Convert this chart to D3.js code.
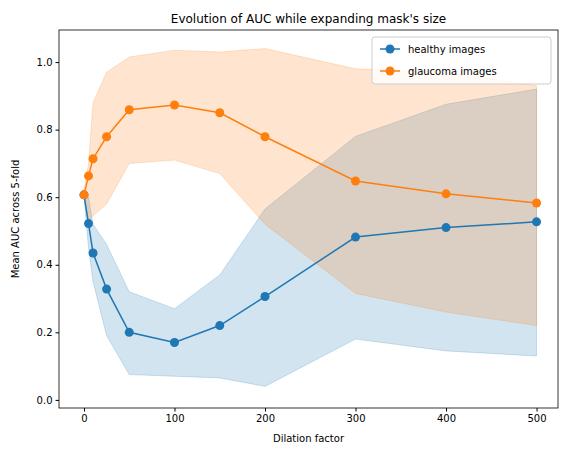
<!DOCTYPE html>
<html><head><meta charset="utf-8">
<script src="https://d3js.org/d3.v7.min.js"></script>
<style>
  body { margin: 0; background: white; font-family: "DejaVu Sans", sans-serif; }
  text { font-family: "DejaVu Sans", sans-serif; }
</style>
</head>
<body>
<script>
var dilation = [0, 5, 10, 25, 50, 100, 150, 200, 300, 400, 500];
var healthyMean = [0.607, 0.522, 0.435, 0.328, 0.200, 0.170, 0.220, 0.306, 0.482, 0.510, 0.527];
var healthyLow  = [0.600, 0.450, 0.350, 0.190, 0.075, 0.070, 0.065, 0.040, 0.180, 0.145, 0.130];
var healthyHigh = [0.620, 0.600, 0.520, 0.460, 0.320, 0.270, 0.370, 0.565, 0.780, 0.875, 0.920];
var glaucomaMean = [0.607, 0.663, 0.714, 0.779, 0.859, 0.873, 0.850, 0.779, 0.648, 0.610, 0.583];
var glaucomaLow  = [0.600, 0.530, 0.545, 0.580, 0.700, 0.710, 0.670, 0.520, 0.315, 0.260, 0.220];
var glaucomaHigh = [0.620, 0.700, 0.880, 0.970, 1.015, 1.035, 1.030, 1.040, 0.980, 0.970, 0.930];
var xTicks = [0, 100, 200, 300, 400, 500];
var yTicks = [0.0, 0.2, 0.4, 0.6, 0.8, 1.0];

var width = 567, height = 455;
var padLeft = 59, padRight = 558, padTop = 30, padBottom = 408;

var svg = d3.select("body").append("svg")
    .attr("width", width).attr("height", height);

var x = d3.scaleLinear().domain([-27.6, 523.7]).range([padLeft, padRight]);
var y = d3.scaleLinear().domain([-0.024, 1.095]).range([padBottom, padTop]);

var series = [
    { name: "healthy images", color: "#1f77b4", mean: healthyMean, low: healthyLow, high: healthyHigh },
    { name: "glaucoma images", color: "#ff7f0e", mean: glaucomaMean, low: glaucomaLow, high: glaucomaHigh }
];

var area = d3.area()
    .x(function(d) { return x(d.x); })
    .y0(function(d) { return y(d.lo); })
    .y1(function(d) { return y(d.hi); });
var line = d3.line()
    .x(function(d) { return x(d.x); })
    .y(function(d) { return y(d.m); });

series.forEach(function(s) {
    var pts = dilation.map(function(v, i) { return { x: v, m: s.mean[i], lo: s.low[i], hi: s.high[i] }; });
    svg.append("path").attr("d", area(pts))
        .attr("fill", s.color).attr("fill-opacity", 0.2)
        .attr("stroke", s.color).attr("stroke-opacity", 0.2);
    s.pts = pts;
});
series.forEach(function(s) {
    svg.append("path").attr("d", line(s.pts))
        .attr("fill", "none").attr("stroke", s.color).attr("stroke-width", 1.5);
    svg.selectAll(null).data(s.pts).enter().append("circle")
        .attr("cx", function(d) { return x(d.x); })
        .attr("cy", function(d) { return y(d.m); })
        .attr("r", 4.5).attr("fill", s.color);
});

// axes
svg.append("g").attr("transform", "translate(0," + padBottom + ")")
    .call(d3.axisBottom(x).tickValues(xTicks).tickSize(3.5).tickPadding(3))
    .call(function(g) { g.select(".domain").remove(); });
svg.append("g").attr("transform", "translate(" + padLeft + ",0)")
    .call(d3.axisLeft(y).tickValues(yTicks).tickFormat(d3.format(".1f")).tickSize(3.5).tickPadding(3))
    .call(function(g) { g.select(".domain").remove(); });
svg.selectAll(".tick text").attr("font-size", 10).attr("fill", "black");

svg.append("rect").attr("x", padLeft).attr("y", padTop)
    .attr("width", padRight - padLeft).attr("height", padBottom - padTop)
    .attr("fill", "none").attr("stroke", "black").attr("stroke-width", 0.8);

svg.append("text").attr("x", (padLeft + padRight) / 2).attr("y", padTop - 7)
    .attr("text-anchor", "middle").attr("font-size", 12)
    .text("Evolution of AUC while expanding mask's size");
svg.append("text").attr("x", (padLeft + padRight) / 2).attr("y", 442)
    .attr("text-anchor", "middle").attr("font-size", 10).text("Dilation factor");
svg.append("text").attr("transform", "translate(19," + ((padTop + padBottom) / 2) + ") rotate(-90)")
    .attr("text-anchor", "middle").attr("font-size", 10).text("Mean AUC across 5-fold");

// legend
var lg = svg.append("g").attr("transform", "translate(372,37)");
lg.append("rect").attr("width", 179).attr("height", 47).attr("rx", 3)
    .attr("fill", "white").attr("fill-opacity", 0.8).attr("stroke", "#cccccc");
series.forEach(function(s, i) {
    var yy = 12 + i * 22;
    lg.append("line").attr("x1", 8).attr("x2", 28).attr("y1", yy).attr("y2", yy)
        .attr("stroke", s.color).attr("stroke-width", 1.5);
    lg.append("circle").attr("cx", 18).attr("cy", yy).attr("r", 4.5).attr("fill", s.color);
    lg.append("text").attr("x", 36).attr("y", yy + 3.5).attr("font-size", 10).text(s.name);
});
</script>
</body></html>
